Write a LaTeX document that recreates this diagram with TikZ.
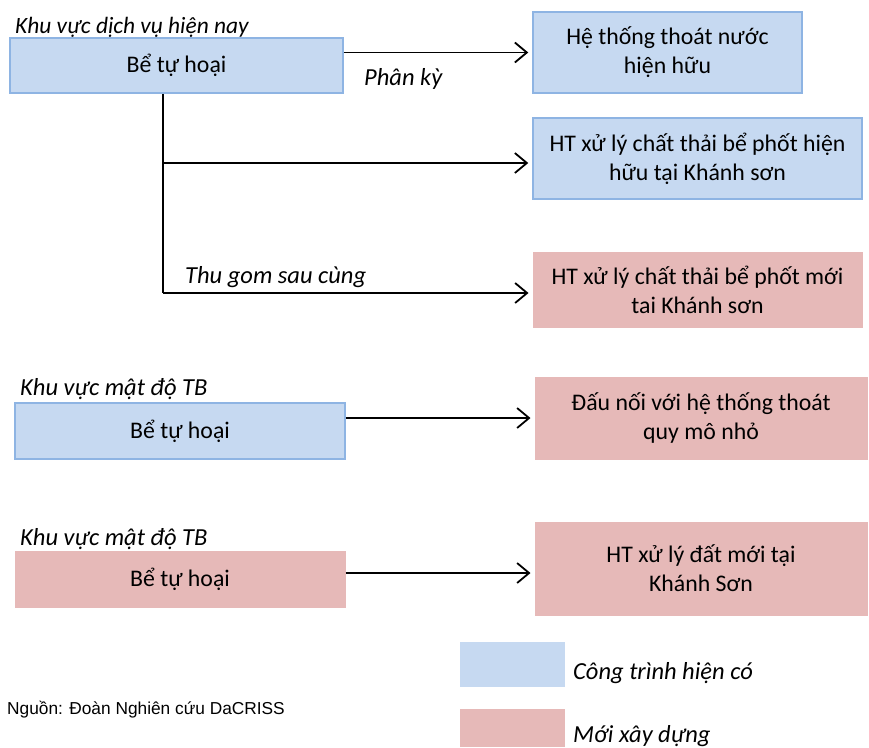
\documentclass[tikz,border=0pt]{standalone}
\usepackage{fontspec}
\setmainfont{Carlito}
\newfontfamily\srcfont{Liberation Sans}
\usetikzlibrary{arrows.meta}
\definecolor{bluefill}{HTML}{C6D9F1}
\definecolor{blueedge}{HTML}{8EB4E3}
\definecolor{pinkfill}{HTML}{E6B9B8}
\tikzset{
  box/.style={inner sep=0pt, align=center, font=\fontsize{23.8}{29}\selectfont},
  existing/.style={box, fill=bluefill, draw=blueedge, line width=1.5pt},
  newbox/.style={box, fill=pinkfill, draw=pinkfill, line width=1pt},
  legendbox/.style={inner sep=0pt, draw=none},
  lbl/.style={inner sep=0pt, anchor=base west, font=\fontsize{24.5}{29}\selectfont\itshape},
  toplbl/.style={inner sep=0pt, anchor=base west, font=\fontsize{23.4}{28}\selectfont\itshape},
  wire/.style={line width=1.8pt},
  conn/.style={line width=1.8pt, shorten >=4pt, -{Straight Barb[length=12pt, width=20pt, line width=1.8pt]}}
}
\begin{document}
\begin{tikzpicture}[x=1pt,y=-1pt]
\useasboundingbox (0,0) rectangle (869,747);

% boxes
\node[existing, minimum width=333pt, minimum height=55pt] (s1) at (176.5,65.5) {Bể tự hoại};
\node[existing, minimum width=269pt, minimum height=81pt] (b2) at (667.5,52.5) {Hệ thống thoát nước\\hiện hữu};
\node[existing, minimum width=329pt, minimum height=81pt] (b3) at (697.5,158.5) {HT xử lý chất thải bể phốt hiện\\hữu tại Khánh sơn};
\node[newbox, minimum width=329pt, minimum height=75pt] (b4) at (697.5,289.5) {HT xử lý chất thải bể phốt mới\\tai Khánh sơn};
\node[existing, minimum width=330pt, minimum height=56pt] (s5) at (180,431) {Bể tự hoại};
\node[newbox, minimum width=332pt, minimum height=82pt] (b6) at (701,418) {Đấu nối với hệ thống thoát\\quy mô nhỏ};
\node[newbox, minimum width=330pt, minimum height=56pt] (s7) at (180,579) {Bể tự hoại};
\node[newbox, minimum width=332pt, minimum height=93pt] (b8) at (701,568.5) {HT xử lý đất mới tại\\Khánh Sơn};

% labels
\node[toplbl] (l1) at (15,33) {Khu vực dịch vụ hiện nay};
\node[lbl] (l2) at (364,85) {Phân kỳ};
\node[lbl] (l3) at (185,283) {Thu gom sau cùng};
\node[lbl] (l4) at (20,395) {Khu vực mật độ TB};
\node[lbl] (l5) at (20,545) {Khu vực mật độ TB};

% connectors
\coordinate (vx) at (163,0);
\coordinate (j2) at (163,163);
\coordinate (j3) at (163,293);
\draw[wire] (vx |- s1.south) -- (j3);
\draw[conn] (s1.east |- b2.west) -- (b2.west);
\draw[conn] (j2) -- (j2 -| b3.west);
\draw[conn] (j3) -- (j3 -| b4.west);
\draw[conn] (s5.east |- b6.west) -- (b6.west);
\draw[conn] ([yshift=6pt]s7.east) -- ([yshift=6pt]s7.east -| b8.west);

% legend
\node[legendbox, fill=bluefill, minimum width=105pt, minimum height=45pt] (k1) at (512.5,664.5) {};
\node[legendbox, fill=pinkfill, minimum width=105pt, minimum height=38pt] (k2) at (512.5,728) {};
\node[lbl] (t1) at (573,679) {Công trình hiện có};
\node[lbl] (t2) at (573,742) {Mới xây dựng};

% source
\node[inner sep=0pt, anchor=base west, font=\srcfont\fontsize{17.3}{20}\selectfont] (src) at (7,714) {Nguồn: Đoàn Nghiên cứu DaCRISS};
\end{tikzpicture}
\end{document}
